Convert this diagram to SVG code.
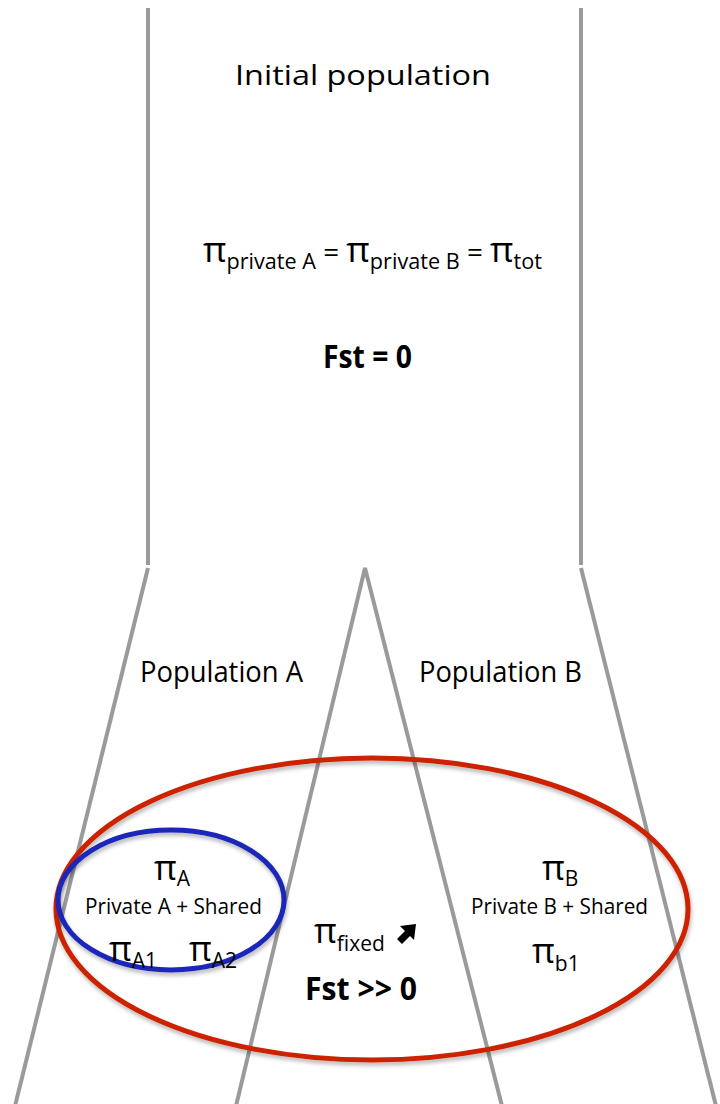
<svg xmlns="http://www.w3.org/2000/svg" width="720" height="1104" viewBox="0 0 720 1104">
<defs>
<style>
.ln{stroke:#9a9a9a;stroke-width:4;fill:none}
.t{font-family:"Open Sans","Liberation Sans",sans-serif;fill:#000}
.b{font-weight:bold}
</style>
<filter id="sh" x="-10%" y="-10%" width="120%" height="130%">
<feGaussianBlur in="SourceAlpha" stdDeviation="2"/>
<feOffset dx="1" dy="3"/>
<feComponentTransfer><feFuncA type="linear" slope="0.3"/></feComponentTransfer>
<feMerge><feMergeNode/><feMergeNode in="SourceGraphic"/></feMerge>
</filter>
</defs>
<rect width="720" height="1104" fill="#fff"/>
<g id="connectors">
<line class="ln" x1="148" y1="8" x2="148" y2="565"/>
<line class="ln" x1="581" y1="8" x2="581" y2="565"/>
<line class="ln" x1="148" y1="568" x2="15" y2="1106"/>
<line class="ln" x1="581" y1="568" x2="716" y2="1106"/>
<polyline class="ln" points="236,1106 365,568 502,1106"/>
</g>
<g id="initial">
<text class="t" x="235" y="85" font-size="28" textLength="256" lengthAdjust="spacingAndGlyphs">Initial population</text>
<text class="t" font-size="35" x="203" y="262" textLength="339" lengthAdjust="spacingAndGlyphs">π<tspan font-size="21" dy="7">private A</tspan><tspan font-size="27" dy="-7"> = </tspan><tspan font-size="35">π</tspan><tspan font-size="21" dy="7">private B</tspan><tspan font-size="27" dy="-7"> = </tspan><tspan font-size="35">π</tspan><tspan font-size="21" dy="7">tot</tspan></text>
<text class="t b" x="323" y="368" font-size="32" textLength="89" lengthAdjust="spacingAndGlyphs">Fst = 0</text>
</g>
<g id="popA">
<text class="t" x="140" y="682" font-size="30" textLength="163" lengthAdjust="spacingAndGlyphs">Population A</text>
</g>
<g id="popB">
<text class="t" x="419" y="682" font-size="30" textLength="163" lengthAdjust="spacingAndGlyphs">Population B</text>
</g>
<g id="red-ellipse">
<ellipse cx="372" cy="909" rx="316" ry="151" fill="none" stroke="#cc2200" stroke-width="5" filter="url(#sh)"/>
</g>
<g id="blue-ellipse">
<ellipse cx="171" cy="900" rx="113" ry="70" fill="none" stroke="#1a26b8" stroke-width="5" filter="url(#sh)"/>
</g>
<g id="nodeA">
<text class="t" font-size="35" x="154" y="880">π<tspan font-size="21" dy="6">A</tspan></text>
<text class="t" x="85" y="914" font-size="22" textLength="177" lengthAdjust="spacingAndGlyphs">Private A + Shared</text>
<text class="t" font-size="35" x="109" y="961">π<tspan font-size="21" dy="7">A1</tspan></text>
<text class="t" font-size="35" x="189" y="961">π<tspan font-size="21" dy="7">A2</tspan></text>
</g>
<g id="nodeFixed">
<text class="t" font-size="35" x="314" y="943">π<tspan font-size="21" dy="8">fixed</tspan></text>
<path d="M416,924 L414,940 L410,936 L402,944 L397,939 L405,931 L400,926 Z" fill="#000"/>
<text class="t b" x="305" y="1000" font-size="32" textLength="112" lengthAdjust="spacingAndGlyphs">Fst &gt;&gt; 0</text>
</g>
<g id="nodeB">
<text class="t" font-size="35" x="542" y="880">π<tspan font-size="21" dy="6">B</tspan></text>
<text class="t" x="471" y="914" font-size="22" textLength="177" lengthAdjust="spacingAndGlyphs">Private B + Shared</text>
<text class="t" font-size="35" x="532" y="963">π<tspan font-size="21" dy="8">b1</tspan></text>
</g>
</svg>
